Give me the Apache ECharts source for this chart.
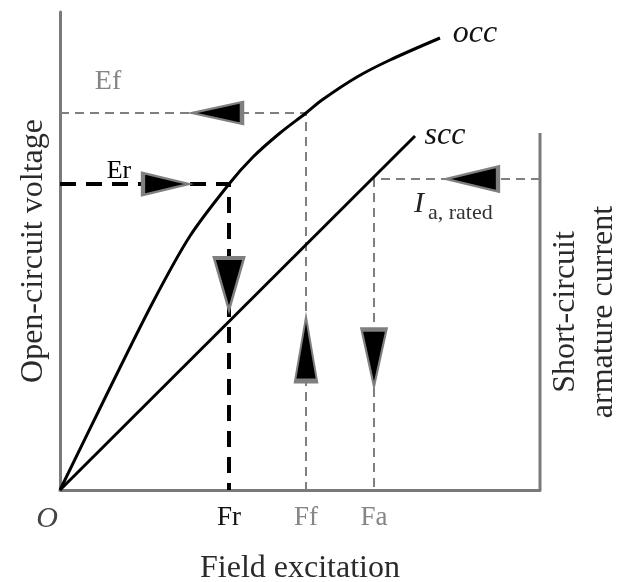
<!DOCTYPE html>
<html>
<head>
<meta charset="utf-8">
<script src="https://cdn.jsdelivr.net/npm/echarts@6/dist/echarts.min.js"></script>
<style>
  html, body { margin: 0; padding: 0; background: #fff; }
  #chart { width: 622px; height: 582px; }
</style>
</head>
<body>
<div id="chart"></div>
<script>
// values (field excitation vs voltage / current, arbitrary units)
var occCurve = [[0, 0], [45, 92], [93, 188], [130, 254], [169, 306], [193, 333], [220, 357], [246, 377], [262, 390], [297, 413], [330, 430], [380, 452]];
var sccLine = [[0, 0], [355, 354]];
var tickNames = ['Fr', 'Ff', 'Fa'];
var tickValues = [169, 246, 314];
var tickColors = ['#111', '#858585', '#858585'];
var erLevel = 306;
var efLevel = 377;
var iaLevel = 311;
var xMax = 480;
var yMax = 478;
var rightAxisTop = 357;
// arrow heads: x, y, direction
var arrows = [[157, 377, 'left'], [106, 306, 'right'], [169, 206, 'down'], [246, 141, 'up'], [314, 132, 'down'], [412, 311, 'left']];
var arrowSizes = [[22, 50], [22, 46], [30, 52], [22, 64], [25, 57], [25, 52]];

var serif = '"Liberation Serif", "DejaVu Serif", serif';
var rotations = { up: 0, left: 90, down: 180, right: -90 };

var chart = echarts.init(document.getElementById('chart'));

var erGuide = [[0, erLevel], [tickValues[0], erLevel], [tickValues[0], 0]];
var efGuide = [[0, efLevel], [tickValues[1], efLevel], [tickValues[1], 0]];
var iaGuide = [[xMax, iaLevel], [tickValues[2], iaLevel], [tickValues[2], 0]];
var rightAxis = [[xMax, 0], [xMax, rightAxisTop]];

var arrowData = arrows.map(function (a, i) {
  return {
    value: [a[0], a[1]],
    symbolSize: arrowSizes[i],
    symbolRotate: rotations[a[2]]
  };
});

var option = {
  animation: false,
  grid: { left: 60, right: 82, top: 12, bottom: 92, outerBoundsMode: 'none', containLabel: false },
  xAxis: {
    type: 'value',
    min: 0,
    max: xMax,
    name: 'Field excitation',
    nameLocation: 'middle',
    nameGap: 63,
    nameTextStyle: { fontFamily: serif, fontSize: 32, color: '#2a2a2a' },
    axisLine: { lineStyle: { color: '#7a7a7a', width: 3 } },
    axisTick: { show: false },
    splitLine: { show: false },
    axisLabel: {
      customValues: [0].concat(tickValues),
      margin: 14,
      formatter: function (v) {
        if (v === 0) return '{o|O}';
        var i = tickValues.indexOf(v);
        return '{t' + i + '|' + tickNames[i] + '}';
      },
      rich: {
        o: { fontFamily: serif, fontStyle: 'italic', fontSize: 30, color: '#444', padding: [0, 26, 0, 0] },
        t0: { fontFamily: serif, fontSize: 27, color: tickColors[0] },
        t1: { fontFamily: serif, fontSize: 27, color: tickColors[1] },
        t2: { fontFamily: serif, fontSize: 27, color: tickColors[2] }
      }
    }
  },
  yAxis: {
    type: 'value',
    min: 0,
    max: yMax,
    name: 'Open-circuit voltage',
    nameLocation: 'middle',
    nameGap: 10,
    nameRotate: 90,
    nameTextStyle: { fontFamily: serif, fontSize: 32, color: '#2a2a2a' },
    axisLine: { show: true, lineStyle: { color: '#7a7a7a', width: 3 } },
    axisTick: { show: false },
    axisLabel: { show: false },
    splitLine: { show: false }
  },
  graphic: [
    { type: 'text', x: 108, y: 82, style: { text: 'Ef', font: '28px ' + serif, fill: '#858585', align: 'center', verticalAlign: 'middle' } },
    { type: 'text', x: 119, y: 171, style: { text: 'Er', font: '26px ' + serif, fill: '#000', align: 'center', verticalAlign: 'middle' } },
    { type: 'text', x: 475, y: 34, style: { text: 'occ', font: 'italic 32px ' + serif, fill: '#111', align: 'center', verticalAlign: 'middle' } },
    { type: 'text', x: 445, y: 136, style: { text: 'scc', font: 'italic 32px ' + serif, fill: '#111', align: 'center', verticalAlign: 'middle' } },
    { type: 'text', x: 414, y: 204, style: { text: 'I', font: 'italic 30px ' + serif, fill: '#222', align: 'left', verticalAlign: 'middle' } },
    { type: 'text', x: 428, y: 213, style: { text: 'a, rated', font: '22px ' + serif, fill: '#333', align: 'left', verticalAlign: 'middle' } },
    {
      type: 'text', x: 585, y: 312, rotation: Math.PI / 2,
      style: { text: 'Short-circuit\narmature current', font: '32px ' + serif, fill: '#2a2a2a', align: 'center', verticalAlign: 'middle', lineHeight: 38 }
    }
  ],
  series: [
    {
      name: 'right axis',
      type: 'line',
      data: rightAxis,
      symbol: 'none',
      lineStyle: { color: '#7a7a7a', width: 3 }
    },
    {
      name: 'Ef guide',
      type: 'line',
      data: efGuide,
      symbol: 'none',
      lineStyle: { color: '#7f7f7f', width: 2, type: [9, 6] }
    },
    {
      name: 'Ia guide',
      type: 'line',
      data: iaGuide,
      symbol: 'none',
      lineStyle: { color: '#7f7f7f', width: 2, type: [9, 6] }
    },
    {
      name: 'Er guide',
      type: 'line',
      data: erGuide,
      symbol: 'none',
      lineStyle: { color: '#000', width: 4, type: [16, 10] }
    },
    {
      name: 'occ',
      type: 'line',
      data: occCurve,
      symbol: 'none',
      smooth: 0.3,
      lineStyle: { color: '#000', width: 3 }
    },
    {
      name: 'scc',
      type: 'line',
      data: sccLine,
      symbol: 'none',
      lineStyle: { color: '#000', width: 3 }
    },
    {
      name: 'arrows',
      type: 'scatter',
      symbol: 'triangle',
      data: arrowData,
      z: 5,
      itemStyle: { color: '#000', opacity: 1, borderColor: '#7f7f7f', borderWidth: 3 }
    }
  ]
};

chart.setOption(option);
</script>
</body>
</html>
